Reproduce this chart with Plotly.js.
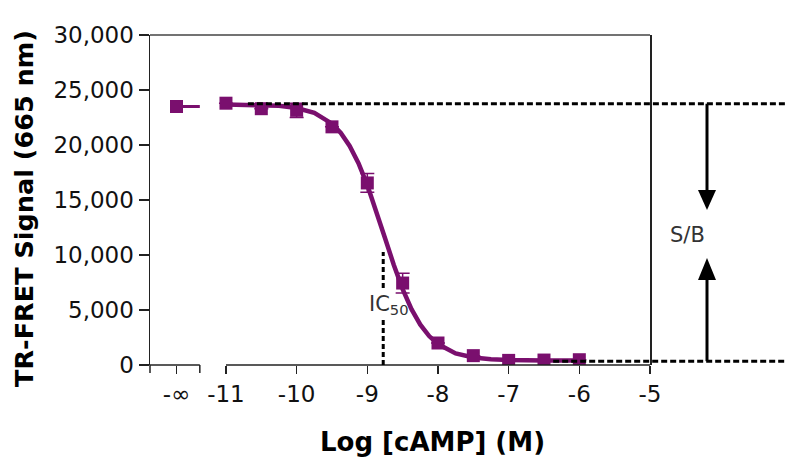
<!DOCTYPE html>
<html><head><meta charset="utf-8">
<script src="https://cdn.plot.ly/plotly-3.0.1.min.js"></script>
<style>html,body{margin:0;padding:0;background:#fff}</style>
</head><body><div id="chart" style="width:785px;height:465px"></div>
<script>
// ---- data ----
const infX = [-11.7];             // "-∞" (no cAMP) position on the broken axis
const infY = [23500];
const logConc = [-11, -10.5, -10, -9.5, -9, -8.5, -8, -7.5, -7, -6.5, -6];
const signal  = [23800, 23300, 23150, 21650, 16550, 7450, 2000, 850, 420, 450, 480];
const signalErr = [0, 0, 650, 0, 850, 900, 0, 0, 0, 0, 0];
const fitX = [-11, -10.75, -10.5, -10.25, -10, -9.75, -9.5, -9.375, -9.25, -9.125, -9, -8.875, -8.75, -8.625, -8.5, -8.375, -8.25, -8.125, -8, -7.75, -7.5, -7.25, -7, -6.5, -5.95];
const fitY = [23690, 23675, 23640, 23558, 23367, 22923, 21938, 21093, 19914, 18344, 16359, 14042, 11548, 9097, 6899, 5079, 3668, 2632, 1899, 1056, 682, 520, 451, 416, 403];
const tickVals = [-11.7, -11, -10, -9, -8, -7, -6, -5];
const tickText = ['-∞', '-11', '-10', '-9', '-8', '-7', '-6', '-5'];
const topLevel = 23750, bottomLevel = 350;
const logIC50 = -8.775, ic50LineTop = 10270;

const purple = '#7a0f6e';
const xr = [-12.075, -5], yr = [0, 30000];
const px = v => (v - xr[0]) / (xr[1] - xr[0]);
const py = v => (v - yr[0]) / (yr[1] - yr[0]);
const breakLeft = -12.075, breakEnd = -11.37, breakStart = -11;
const arrowX = 1.114, hw = 0.018;
const tipDown = 14090, baseDown = 15900, tipUp = 9730, baseUp = 7730;
const tickLenPaper = 8 / 330;

const traces = [
  {x: [infX[0], breakEnd], y: [infY[0], infY[0]], mode: 'lines', line: {color: purple, width: 3}, hoverinfo: 'skip'},
  {x: fitX, y: fitY, mode: 'lines', line: {color: purple, width: 4.5}},
  {x: infX, y: infY, mode: 'markers', marker: {symbol: 'square', size: 13, color: purple}},
  {x: logConc, y: signal, mode: 'markers', marker: {symbol: 'square', size: 13, color: purple},
   error_y: {type: 'data', array: signalErr, color: purple, thickness: 1.5, width: 7}}
];

const dash = '6px,3px';
const shapes = [
  {type: 'line', xref: 'paper', yref: 'paper', x0: 0, x1: px(breakEnd), y0: 0, y1: 0, line: {color: '#222', width: 1.5}},
  {type: 'line', xref: 'paper', yref: 'paper', x0: px(breakStart), x1: 1, y0: 0, y1: 0, line: {color: '#222', width: 1.5}},
  {type: 'line', xref: 'paper', yref: 'paper', x0: px(breakLeft), x1: px(breakLeft), y0: 0, y1: -tickLenPaper, line: {color: '#222', width: 1.5}},
  {type: 'line', xref: 'paper', yref: 'paper', x0: px(breakEnd), x1: px(breakEnd), y0: 0, y1: -tickLenPaper, line: {color: '#222', width: 1.5}},
  {type: 'line', xref: 'paper', yref: 'paper', x0: 0, x1: 1, y0: 1, y1: 1, line: {color: '#444', width: 1.5}},
  {type: 'line', xref: 'paper', yref: 'paper', x0: px(-10.69), x1: 1.3, y0: py(topLevel), y1: py(topLevel), line: {color: '#000', width: 3, dash: dash}},
  {type: 'line', xref: 'paper', yref: 'paper', x0: px(-6.37), x1: 1.3, y0: py(bottomLevel), y1: py(bottomLevel), line: {color: '#000', width: 3, dash: dash}},
  {type: 'line', xref: 'x', yref: 'y', x0: logIC50, x1: logIC50, y0: 0, y1: 4200, line: {color: '#000', width: 3, dash: '5px,3px'}},
  {type: 'line', xref: 'x', yref: 'y', x0: logIC50, x1: logIC50, y0: 7000, y1: ic50LineTop, line: {color: '#000', width: 3, dash: '5px,3px'}},
  {type: 'line', xref: 'paper', yref: 'paper', x0: arrowX, x1: arrowX, y0: py(topLevel), y1: py(baseDown), line: {color: '#000', width: 3}},
  {type: 'path', xref: 'paper', yref: 'paper', path: `M ${arrowX-hw} ${py(baseDown)} L ${arrowX+hw} ${py(baseDown)} L ${arrowX} ${py(tipDown)} Z`, fillcolor: '#000', line: {width: 0}},
  {type: 'line', xref: 'paper', yref: 'paper', x0: arrowX, x1: arrowX, y0: py(bottomLevel), y1: py(baseUp), line: {color: '#000', width: 3}},
  {type: 'path', xref: 'paper', yref: 'paper', path: `M ${arrowX-hw} ${py(baseUp)} L ${arrowX+hw} ${py(baseUp)} L ${arrowX} ${py(tipUp)} Z`, fillcolor: '#000', line: {width: 0}}
];

const tickFont = {family: 'DejaVu Sans', size: 23, color: '#111'};
const layout = {
  width: 785, height: 465,
  margin: {l: 150, r: 135, t: 35, b: 100},
  paper_bgcolor: '#fff', plot_bgcolor: '#fff',
  showlegend: false,
  xaxis: {range: xr, showgrid: false, zeroline: false, showline: false,
    tickmode: 'array', tickvals: tickVals, ticktext: tickText,
    ticks: 'outside', ticklen: 8, tickwidth: 1.5, tickcolor: '#222', tickfont: tickFont},
  yaxis: {range: yr, showgrid: false, zeroline: false, showline: true, mirror: true,
    linecolor: '#222', linewidth: 1.5,
    tickvals: [0, 5000, 10000, 15000, 20000, 25000, 30000], tickformat: ',d',
    ticks: 'outside', ticklen: 10, tickwidth: 1.5, tickcolor: '#222', tickfont: tickFont},
  shapes: shapes,
  annotations: [
    {text: 'Log [cAMP] (M)', xref: 'paper', yref: 'paper', x: 0.564, y: -0.233, showarrow: false,
     font: {family: 'DejaVu Sans', size: 26, color: '#000', weight: 'bold'}, xanchor: 'center', yanchor: 'middle'},
    {text: 'TR-FRET Signal (665 nm)', xref: 'paper', yref: 'paper', x: -0.252, y: 0.473, showarrow: false, textangle: -90,
     font: {family: 'DejaVu Sans', size: 25.5, color: '#000', weight: 'bold'}, xanchor: 'center', yanchor: 'middle'},
    {text: 'IC<sub>50</sub>', xref: 'x', yref: 'y', x: logIC50, y: 5450, xshift: 6, showarrow: false,
     font: {family: 'DejaVu Sans', size: 21, color: '#333'}},
    {text: 'S/B', xref: 'paper', yref: 'paper', x: arrowX, y: py(11820), showarrow: false,
     font: {family: 'DejaVu Sans', size: 21, color: '#333'}}
  ]
};
Plotly.newPlot('chart', traces, layout, {displayModeBar: false, staticPlot: true});
</script></body></html>
